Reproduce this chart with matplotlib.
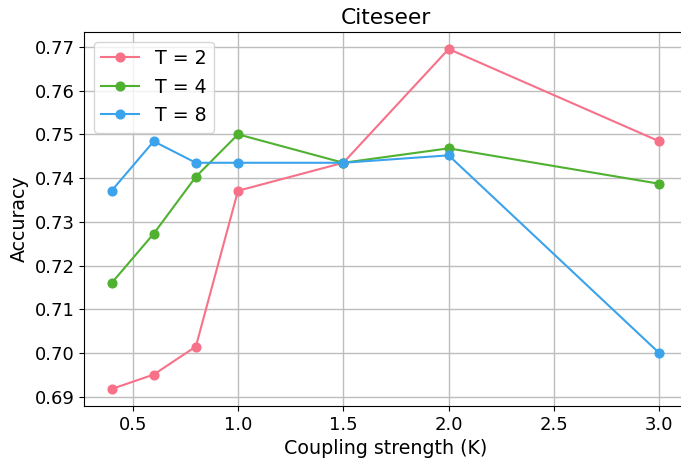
import matplotlib
matplotlib.use("Agg")
import matplotlib.pyplot as plt

K = [0.4, 0.6, 0.8, 1.0, 1.5, 2.0, 3.0]
acc_T2 = [0.6918, 0.6951, 0.7015, 0.7371, 0.7435, 0.7695, 0.7484]
acc_T4 = [0.7160, 0.7273, 0.7403, 0.7500, 0.7435, 0.7468, 0.7387]
acc_T8 = [0.7371, 0.7484, 0.7435, 0.7435, 0.7435, 0.7452, 0.7000]
labels = ["T = 2", "T = 4", "T = 8"]
colors = ["#f77189", "#50b131", "#3ba3ec"]

fig = plt.figure(figsize=(6.81, 4.58), dpi=100)
ax = fig.add_axes([84.2 / 681, 1 - 406 / 458, (686.7 - 84.2) / 681, (406 - 32) / 458])
for y, lab, c in zip([acc_T2, acc_T4, acc_T8], labels, colors):
    ax.plot(K, y, marker="o", color=c, label=lab, linewidth=1.5, markersize=6.3)
ax.grid(True, color="#bdbdbd", linewidth=1.0)
ax.set_axisbelow(True)
ax.set_yticks([0.69, 0.70, 0.71, 0.72, 0.73, 0.74, 0.75, 0.76, 0.77])
ax.set_xticks([0.5, 1.0, 1.5, 2.0, 2.5, 3.0])
ax.tick_params(labelsize=13)
ax.set_xlabel("Coupling strength (K)", fontsize=13.7)
ax.set_ylabel("Accuracy", fontsize=13.7)
ax.set_title("Citeseer", fontsize=15.7)
ax.legend(loc="upper left", fontsize=13.7)
fig.savefig("out.png", dpi=100)
